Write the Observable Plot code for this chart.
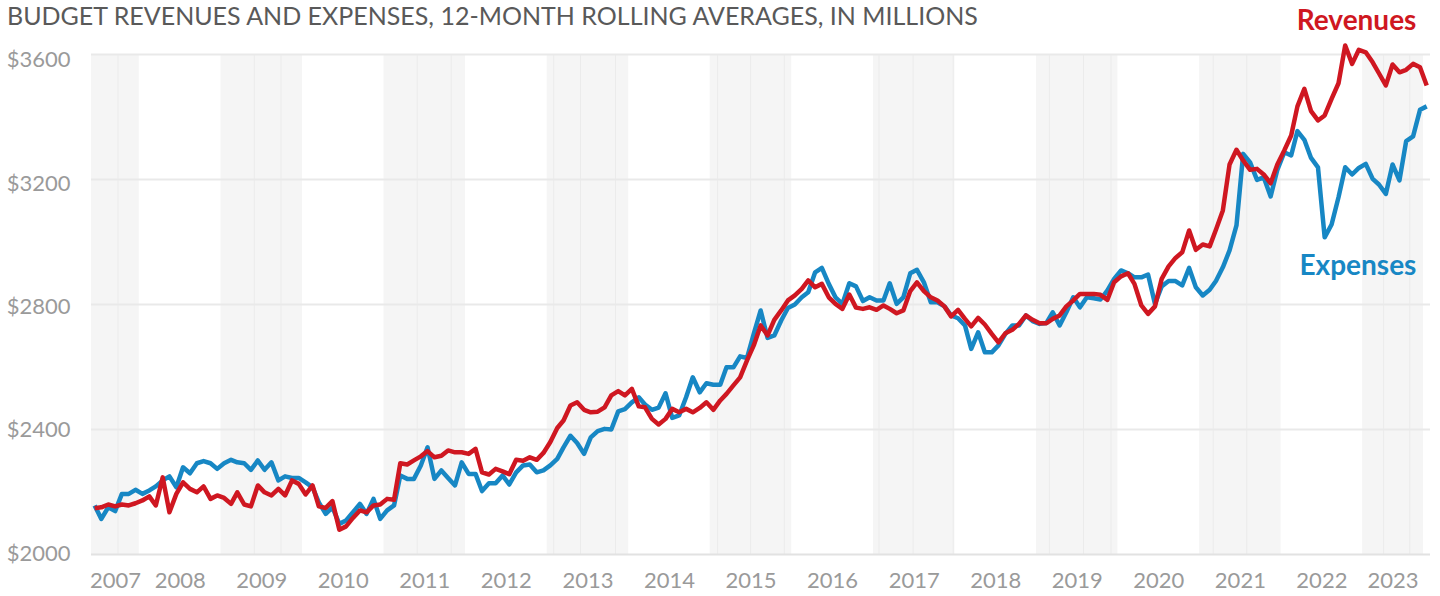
<!DOCTYPE html>
<html>
<head>
<meta charset="utf-8">
<script src="https://cdn.jsdelivr.net/npm/d3@7"></script>
<script src="https://cdn.jsdelivr.net/npm/@observablehq/plot@0.6"></script>
<style>
  html, body { margin: 0; padding: 0; background: #ffffff; }
  #wrap { position: relative; width: 1440px; height: 596px; overflow: hidden; }
  #chart { position: absolute; left: 0; top: 0; }
  #title {
    position: absolute; left: 7px; top: 0px;
    font-family: Lato, "Open Sans", sans-serif; font-size: 25px; line-height: 30px;
    color: #595959; white-space: nowrap; letter-spacing: 0;
  }
</style>
</head>
<body>
<div id="wrap">
  <div id="chart"></div>
  <div id="title">BUDGET REVENUES AND EXPENSES, 12-MONTH ROLLING AVERAGES, IN MILLIONS</div>
</div>
<script>
// ---- Data (monthly 12-month rolling averages, $ millions), Jun 2007 – Oct 2023 ----
const firstMonth = [2007, 5];   // June 2007 (0-based month)
const lastMonth = [2023, 9];    // October 2023

const revenues = [
  2148,2151,2160,2154,2160,2157,2164,2173,2186,2157,
  2247,2135,2194,2231,2210,2199,2218,2178,2189,2181,
  2162,2199,2160,2154,2221,2199,2189,2210,2189,2237,
  2226,2192,2221,2154,2149,2171,2079,2090,2117,2141,
  2135,2157,2160,2178,2175,2292,2288,2301,2314,2331,
  2311,2316,2333,2327,2327,2322,2338,2263,2256,2274,
  2266,2257,2303,2300,2311,2303,2325,2360,2405,2429,
  2477,2487,2463,2455,2457,2471,2509,2523,2509,2530,
  2474,2471,2434,2416,2434,2466,2455,2466,2455,2469,
  2487,2463,2493,2514,2541,2567,2621,2669,2733,2701,
  2751,2781,2813,2829,2850,2877,2855,2866,2823,2802,
  2786,2832,2790,2786,2791,2783,2797,2786,2772,2781,
  2843,2871,2843,2823,2813,2794,2762,2783,2754,2730,
  2757,2736,2706,2679,2708,2719,2738,2765,2751,2740,
  2740,2754,2765,2794,2813,2834,2834,2834,2831,2815,
  2871,2890,2900,2866,2797,2770,2794,2882,2922,2949,
  2967,3037,2975,2992,2986,3039,3101,3248,3295,3261,
  3231,3234,3216,3188,3248,3293,3341,3434,3490,3419,
  3389,3405,3458,3508,3629,3570,3615,3607,3575,3540,
  3501,3568,3543,3551,3570,3559,3501
];

const expenses = [
  2157,2114,2151,2139,2194,2194,2207,2194,2205,2218,
  2237,2250,2215,2279,2260,2292,2299,2292,2274,2292,
  2303,2295,2292,2271,2301,2271,2295,2237,2250,2245,
  2245,2231,2215,2167,2130,2151,2098,2109,2135,2162,
  2130,2178,2114,2141,2157,2253,2242,2242,2285,2343,
  2242,2269,2245,2221,2295,2258,2258,2203,2228,2228,
  2253,2224,2263,2285,2288,2263,2269,2285,2306,2343,
  2380,2357,2322,2375,2395,2402,2400,2458,2465,2487,
  2503,2480,2463,2470,2516,2437,2445,2503,2567,2519,
  2548,2543,2543,2599,2599,2634,2629,2706,2781,2693,
  2701,2749,2789,2800,2823,2839,2903,2917,2866,2823,
  2802,2868,2858,2811,2823,2813,2813,2868,2802,2823,
  2900,2911,2871,2807,2807,2794,2765,2756,2733,2658,
  2711,2647,2647,2669,2706,2733,2733,2765,2747,2738,
  2741,2775,2733,2775,2823,2791,2823,2820,2816,2845,
  2882,2909,2900,2887,2887,2896,2802,2858,2875,2875,
  2861,2917,2855,2829,2847,2875,2919,2973,3053,3282,
  3255,3199,3207,3146,3231,3287,3277,3355,3327,3269,
  3239,3015,3056,3143,3239,3216,3237,3250,3202,3184,
  3154,3248,3197,3323,3338,3423,3434
];

const yTicks = [2000, 2400, 2800, 3200, 3600];
const shadedYears = [2007, 2009, 2011, 2013, 2015, 2017, 2019, 2021, 2023];
const bandSeams = ["2007-09-28","2009-05-30","2009-09-27","2011-05-30","2011-10-29",
  "2013-01-30","2013-05-30","2013-11-03","2015-02-03","2015-07-01","2015-11-29",
  "2017-01-26","2017-06-28","2017-12-24","2019-02-28","2019-07-31","2019-12-01",
  "2021-03-03","2021-07-31","2023-04-05","2023-07-31"];
const seriesLabels = [
  {name: "Revenues", date: "2023-08-30", value: 3677},
  {name: "Expenses", date: "2023-08-30", value: 2893}
];

// ---- Build tables ----
const xStart = new Date(Date.UTC(firstMonth[0], firstMonth[1], 1));
const lastStart = new Date(Date.UTC(lastMonth[0], lastMonth[1], 1));
const xEnd = d3.utcMonth.offset(lastStart, 1);
const months = d3.utcMonth.range(xStart, xEnd).map(d => d3.utcDay.offset(d, 14));
const revData = revenues.map((v, i) => ({date: months[i], value: v})).filter(d => d.date);
const expData = expenses.map((v, i) => ({date: months[i], value: v})).filter(d => d.date);

const bands = shadedYears.map(y => ({
  start: new Date(Math.max(Date.UTC(y, 0, 1), +xStart)),
  end: new Date(Math.min(Date.UTC(y + 1, 0, 1), +lastStart))
}));
const years = d3.range(firstMonth[0], lastMonth[0] + 1);
const yearLabels = years.map(y => {
  const a = Math.max(Date.UTC(y, 0, 1), +xStart);
  const b = Math.min(Date.UTC(y + 1, 0, 1), +lastStart);
  return {date: new Date((a + b) / 2), label: String(y)};
});
const seams = bandSeams.map(s => new Date(s + "T00:00:00Z"));
const labelRows = seriesLabels.map(d => ({...d, date: new Date(d.date + "T00:00:00Z")}));

const fontFamily = 'Lato, "Open Sans", sans-serif';
const tickGray = "#9a9a9a";
const red = "#cf1721";
const blue = "#1787c4";

const chart = Plot.plot({
  width: 1440,
  height: 596,
  marginLeft: 91,
  marginRight: 10,
  marginTop: 54,
  marginBottom: 42,
  style: {fontFamily, background: "transparent", overflow: "visible"},
  x: {type: "utc", domain: [xStart, xEnd], axis: null},
  y: {domain: [2000, 3600], axis: null},
  marks: [
    Plot.rect(bands, {x1: "start", x2: "end", fill: "#f5f5f5"}),
    Plot.ruleX(seams, {x: d => d, stroke: "#ebebeb", strokeWidth: 1}),
    Plot.ruleY(yTicks, {y: d => d, stroke: d => d === 2000 ? "#e2e2e2" : "#e9e9e9", strokeWidth: 2}),
    Plot.text(yTicks, {
      y: d => d - 3.2 * (-1 + 6.7 * (d - 2000) / 1600),
      text: d => "$" + d,
      frameAnchor: "left", textAnchor: "end", dx: -21,
      fontSize: 22, fill: tickGray
    }),
    Plot.text(yearLabels, {
      x: "date", text: "label",
      frameAnchor: "bottom", lineAnchor: "top", dy: 18,
      fontSize: 22, fill: tickGray
    }),
    Plot.line(expData, {x: "date", y: "value", stroke: blue, strokeWidth: 4.5, strokeLinejoin: "round", strokeLinecap: "butt"}),
    Plot.line(revData, {x: "date", y: "value", stroke: red, strokeWidth: 4.5, strokeLinejoin: "round", strokeLinecap: "butt"}),
    Plot.text(labelRows.filter(d => d.name === "Revenues"), {
      x: "date", y: "value", text: "name", textAnchor: "end", lineAnchor: "bottom",
      fontSize: 28, fontWeight: "bold", fill: red
    }),
    Plot.text(labelRows.filter(d => d.name === "Expenses"), {
      x: "date", y: "value", text: "name", textAnchor: "end", lineAnchor: "bottom",
      fontSize: 28, fontWeight: "bold", fill: blue
    })
  ]
});
document.getElementById("chart").appendChild(chart);
</script>
</body>
</html>
